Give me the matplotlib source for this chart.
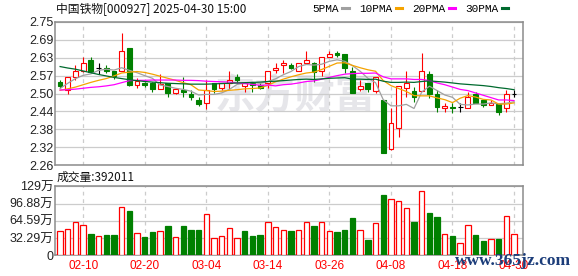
"""Daily K-line for 中国铁物 (000927) with moving averages and volume."""
import matplotlib
matplotlib.use("Agg")
import matplotlib.pyplot as plt
import numpy as np
import pandas as pd

plt.rcParams["font.family"] = ["Liberation Sans", "Noto Sans CJK SC"]

TITLE = "中国铁物[000927] 2025-04-30 15:00"
VOL_LABEL = "成交量"

# trading days shown (Qingming holiday on 04-04)
dates = pd.bdate_range("2025-02-05", "2025-04-30").drop(pd.Timestamp("2025-04-04"))
date_ticks = ["02-10", "02-20", "03-04", "03-14", "03-26", "04-08", "04-18", "04-30"]

open_ = [2.544, 2.517, 2.560, 2.583, 2.618, 2.591, 2.591, 2.582, 2.583, 2.659,
         2.533, 2.542, 2.541, 2.522, 2.541, 2.506, 2.517, 2.503, 2.483, 2.474,
         2.540, 2.524, 2.540, 2.561, 2.531, 2.540, 2.534, 2.540, 2.584, 2.604,
         2.603, 2.583, 2.610, 2.610, 2.582, 2.631, 2.644, 2.640, 2.583, 2.520,
         2.540, 2.512, 2.483, 2.315, 2.386, 2.524, 2.514, 2.515, 2.572, 2.503,
         2.454, 2.458, 2.458, 2.454, 2.503, 2.483, 2.466, 2.468, 2.454, 2.502]
high = [2.551, 2.561, 2.601, 2.628, 2.628, 2.608, 2.602, 2.582, 2.712, 2.659,
        2.559, 2.546, 2.545, 2.571, 2.541, 2.520, 2.560, 2.517, 2.494, 2.551,
        2.540, 2.540, 2.583, 2.571, 2.540, 2.545, 2.540, 2.582, 2.610, 2.618,
        2.608, 2.609, 2.650, 2.612, 2.628, 2.650, 2.651, 2.640, 2.596, 2.551,
        2.540, 2.560, 2.483, 2.454, 2.531, 2.583, 2.527, 2.642, 2.583, 2.516,
        2.471, 2.471, 2.471, 2.511, 2.511, 2.483, 2.483, 2.468, 2.517, 2.517]
low = [2.523, 2.503, 2.551, 2.580, 2.575, 2.571, 2.574, 2.556, 2.582, 2.532,
       2.523, 2.526, 2.511, 2.520, 2.494, 2.504, 2.494, 2.483, 2.462, 2.453,
       2.508, 2.517, 2.519, 2.542, 2.511, 2.511, 2.519, 2.523, 2.576, 2.576,
       2.587, 2.583, 2.605, 2.545, 2.565, 2.631, 2.631, 2.576, 2.506, 2.515,
       2.510, 2.506, 2.303, 2.313, 2.356, 2.494, 2.477, 2.515, 2.491, 2.443,
       2.443, 2.437, 2.443, 2.454, 2.471, 2.458, 2.466, 2.432, 2.443, 2.494]
close = [2.532, 2.560, 2.581, 2.609, 2.577, 2.591, 2.583, 2.565, 2.650, 2.533,
         2.548, 2.533, 2.519, 2.538, 2.506, 2.520, 2.511, 2.492, 2.469, 2.517,
         2.519, 2.540, 2.551, 2.551, 2.540, 2.534, 2.525, 2.582, 2.592, 2.610,
         2.593, 2.609, 2.618, 2.579, 2.628, 2.640, 2.635, 2.593, 2.506, 2.530,
         2.519, 2.560, 2.303, 2.403, 2.531, 2.541, 2.494, 2.582, 2.503, 2.460,
         2.462, 2.455, 2.458, 2.494, 2.474, 2.466, 2.474, 2.443, 2.502, 2.502]

ma5 = [2.522, 2.540, 2.556, 2.567, 2.572, 2.584, 2.588, 2.585, 2.593, 2.584,
       2.576, 2.566, 2.557, 2.534, 2.529, 2.523, 2.519, 2.513, 2.500, 2.502,
       2.502, 2.507, 2.519, 2.536, 2.540, 2.543, 2.540, 2.546, 2.555, 2.569,
       2.580, 2.597, 2.604, 2.602, 2.605, 2.615, 2.620, 2.615, 2.600, 2.581,
       2.557, 2.542, 2.484, 2.463, 2.463, 2.468, 2.454, 2.510, 2.530, 2.515,
       2.500, 2.492, 2.468, 2.466, 2.469, 2.469, 2.473, 2.470, 2.472, 2.477]
ma10 = [2.516, 2.521, 2.527, 2.535, 2.543, 2.550, 2.556, 2.565, 2.575, 2.578,
        2.580, 2.577, 2.571, 2.564, 2.557, 2.550, 2.542, 2.535, 2.517, 2.515,
        2.512, 2.513, 2.516, 2.518, 2.521, 2.522, 2.524, 2.533, 2.545, 2.554,
        2.562, 2.569, 2.575, 2.578, 2.587, 2.598, 2.609, 2.610, 2.601, 2.593,
        2.586, 2.581, 2.549, 2.532, 2.522, 2.512, 2.498, 2.497, 2.497, 2.490,
        2.484, 2.474, 2.489, 2.498, 2.493, 2.485, 2.483, 2.469, 2.469, 2.473]
ma20 = [2.517, 2.518, 2.520, 2.523, 2.526, 2.528, 2.531, 2.535, 2.542, 2.549,
        2.550, 2.550, 2.551, 2.551, 2.551, 2.551, 2.550, 2.550, 2.549, 2.547,
        2.546, 2.545, 2.544, 2.541, 2.539, 2.536, 2.533, 2.534, 2.531, 2.535,
        2.537, 2.541, 2.546, 2.548, 2.554, 2.560, 2.566, 2.571, 2.573, 2.574,
        2.574, 2.575, 2.562, 2.555, 2.555, 2.555, 2.553, 2.553, 2.549, 2.541,
        2.535, 2.527, 2.519, 2.515, 2.507, 2.499, 2.491, 2.483, 2.483, 2.481]
ma30 = [2.597, 2.592, 2.588, 2.582, 2.576, 2.570, 2.565, 2.560, 2.556, 2.552,
        2.549, 2.546, 2.544, 2.542, 2.540, 2.539, 2.538, 2.537, 2.537, 2.537,
        2.538, 2.539, 2.540, 2.541, 2.542, 2.543, 2.544, 2.546, 2.547, 2.549,
        2.551, 2.553, 2.554, 2.553, 2.555, 2.557, 2.558, 2.559, 2.554, 2.554,
        2.553, 2.554, 2.547, 2.543, 2.543, 2.544, 2.543, 2.546, 2.548, 2.546,
        2.544, 2.541, 2.538, 2.536, 2.534, 2.532, 2.529, 2.525, 2.522, 2.518]

# volume in 万 (10k)
volume = [44.9, 48.7, 61.8, 56.2, 39.9, 35.6, 38.0, 38.0, 89.9, 82.9,
          41.2, 34.3, 43.1, 44.9, 54.8, 33.7, 54.8, 47.4, 47.4, 76.7,
          31.8, 35.6, 51.1, 31.8, 44.9, 36.1, 38.0, 61.8, 52.4, 46.8,
          44.9, 46.8, 61.8, 54.8, 61.8, 44.9, 43.1, 47.4, 69.8, 46.8,
          28.6, 59.9, 112.9, 104.8, 101.1, 88.0, 62.3, 119.8, 79.2, 71.7,
          39.3, 36.1, 22.5, 56.2, 38.0, 26.8, 30.0, 30.6, 73.0, 39.2011]

price_ticks = np.linspace(2.26, 2.75, 9)
price_labels = ["2.26", "2.32", "2.38", "2.44", "2.50", "2.57", "2.63", "2.69", "2.75"]
vol_top = 129.16
vol_ticks = [0, 32.29, 64.58, 96.87, 129.16]
vol_labels = ["0", "32.29万", "64.59万", "96.88万", "129万"]

RED = "#ff0000"
GREEN = "#008000"
GRID = "#cccccc"
SPINE = "#8c8c8c"
MA_STYLE = [("5PMA", ma5, "#a0a0a0"), ("10PMA", ma10, "#f5a300"),
            ("20PMA", ma20, "#ff00ff"), ("30PMA", ma30, "#006a2e")]

o, h, l, c = (np.array(v) for v in (open_, high, low, close))
x = np.arange(len(c))
tick_pos = [i for i, d in enumerate(dates) if d.strftime("%m-%d") in date_ticks]
W = 0.62

fig = plt.figure(figsize=(5.78, 2.76), dpi=100)
ax = fig.add_axes([0.096, 0.401, 0.808, 0.5203])
axv = fig.add_axes([0.096, 0.075, 0.808, 0.250])

for a in (ax, axv):
    a.set_xlim(-0.6, 60.1)
    a.set_axisbelow(True)
    a.set_xticks(tick_pos)
    a.grid(True, axis="y", color=GRID, lw=0.9)
    a.grid(True, axis="x", color=GRID, lw=0.9, ls=(0, (3, 3)))
    a.tick_params(length=0, labelsize=9, colors="#222222", pad=1.5)
    for s in a.spines.values():
        s.set_color(SPINE)
        s.set_linewidth(1.1)

# candles
up, dn, flat = c > o, c < o, c == o
ax.vlines(x[up], l[up], h[up], color=RED, lw=0.8, zorder=2)
ax.bar(x[up], (c - o)[up], bottom=o[up], width=W, facecolor="white",
       edgecolor=RED, lw=0.8, zorder=3)
ax.vlines(x[dn], l[dn], h[dn], color=GREEN, lw=0.8, zorder=2)
ax.bar(x[dn], (o - c)[dn], bottom=c[dn], width=W, facecolor=GREEN,
       edgecolor=GREEN, lw=0.8, zorder=3)
ax.vlines(x[flat], l[flat], h[flat], color="black", lw=0.8, zorder=2)
ax.hlines(c[flat], x[flat] - W / 2, x[flat] + W / 2, color="black", lw=0.8, zorder=3)

for name, vals, col in MA_STYLE:
    ax.plot(x, vals, color=col, lw=0.9, label=name, zorder=4)

ax.set_ylim(2.26, 2.75)
ax.set_yticks(price_ticks, price_labels)
ax.tick_params(axis="x", labelbottom=False)
ax.text(0.513, 0.476, "东方财富", transform=ax.transAxes, ha="center", va="center",
        fontsize=29, fontweight="bold", color="#e6e6ea", zorder=0.4,
        family=["Noto Sans CJK SC"])

# volume coloured by close vs previous close
vol_up = np.r_[True, np.diff(c) >= 0]
vol = np.array(volume)
axv.bar(x[vol_up], vol[vol_up], width=0.7, facecolor="white", edgecolor=RED,
        lw=0.9, zorder=3)
axv.bar(x[~vol_up], vol[~vol_up], width=0.7, facecolor=GREEN, edgecolor=GREEN,
        lw=0.9, zorder=3)
axv.set_ylim(0, vol_top)
axv.set_yticks(vol_ticks, vol_labels)
axv.set_xticklabels(date_ticks)
axv.tick_params(axis="x", colors=RED, labelsize=8.5, pad=3.5)

fig.text(56 / 578, 1 - 10 / 276, TITLE, va="center", ha="left", fontsize=8.5,
         family=["Noto Sans CJK SC", "DejaVu Sans"], color="#111111")
fig.text(57 / 578, 1 - 177 / 276, f"{VOL_LABEL}:{volume[-1] * 10000:.0f}",
         va="center", ha="left", fontsize=8.5,
         family=["Noto Sans CJK SC", "DejaVu Sans"], color="#111111")

leg = fig.legend(loc="center right", bbox_to_anchor=(514 / 578, 1 - 9 / 276),
                 ncol=4, frameon=False, markerfirst=False, handlelength=0.6,
                 handletextpad=0.3, columnspacing=0.9, borderpad=0,
                 prop={"family": "Liberation Mono", "size": 8})
for hd in leg.legend_handles:
    hd.set_linewidth(2.2)

fig.text(513 / 578, 1 - 261 / 276, "www.365jz.com", ha="center", va="center",
         fontsize=12.5, fontweight="bold", family="Liberation Serif",
         color="#1c3d7a")

fig.savefig("out.png", dpi=100)
